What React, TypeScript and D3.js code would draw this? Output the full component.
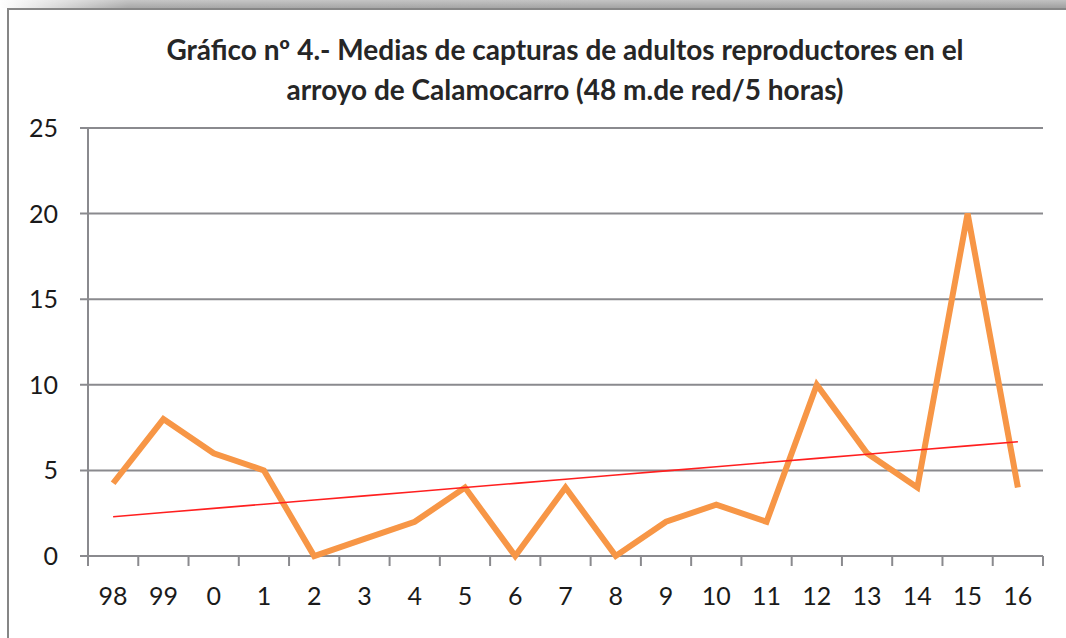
import React from "react";
import { scaleBand, scaleLinear, line, mean, sum } from "d3";

const years = ["98", "99", "0", "1", "2", "3", "4", "5", "6", "7", "8", "9", "10", "11", "12", "13", "14", "15", "16"];
const captures = [4.25, 8, 6, 5, 0, 1, 2, 4, 0, 4, 0, 2, 3, 2, 10, 6, 4, 20, 4];
const yTicks = [0, 5, 10, 15, 20, 25];
const titleLines = [
  "Gráfico nº 4.- Medias de capturas de adultos reproductores en el",
  "arroyo de Calamocarro (48 m.de red/5 horas)"
];

const W = 1066;
const H = 638;
const LEFT = 88;
const RIGHT = 1043;
const TOP = 128;
const BOTTOM = 556;

const FONT = "Lato, 'Open Sans', sans-serif";
const GRID = "#8a8a8e";

// least squares trend, like Excel's linear trendline
const xs = captures.map((_, i) => i);
const mx = mean(xs)!;
const my = mean(captures)!;
const slope =
  sum(xs, (x, i) => (x - mx) * (captures[i] - my)) / sum(xs, x => (x - mx) * (x - mx));
const intercept = my - slope * mx;
const trend = xs.map(x => intercept + slope * x);

export default function App() {
  const xScale = scaleBand<string>().domain(years).range([LEFT, RIGHT]);
  const yScale = scaleLinear().domain([0, 25]).range([BOTTOM, TOP]);
  const cx = (d: string) => xScale(d)! + xScale.bandwidth() / 2;

  const lineFn = line<number>()
    .x((_, i) => cx(years[i]))
    .y(d => yScale(d));

  const bounds = [...years.map(y => xScale(y)!), RIGHT];

  return (
    <svg
      width={W}
      height={H}
      style={{ position: "absolute", left: 0, top: 0, background: "#fff" }}
      fontFamily={FONT}
    >
      <defs>
        <linearGradient id="topband" x1="0" x2="1" y1="0" y2="0">
          <stop offset="0" stopColor="#ffffff" />
          <stop offset="0.12" stopColor="#a8a8a8" />
          <stop offset="1" stopColor="#a0a0a0" />
        </linearGradient>
        <linearGradient id="topshade" x1="0" x2="0" y1="0" y2="1">
          <stop offset="0" stopColor="#fff" stopOpacity={0.35} />
          <stop offset="1" stopColor="#fff" stopOpacity={0} />
        </linearGradient>
      </defs>
      <rect x={0} y={0} width={W} height={8} fill="url(#topband)" />
      <rect x={0} y={0} width={W} height={8} fill="url(#topshade)" />
      <line x1={7} x2={W} y1={9} y2={9} stroke="#868686" strokeWidth={2} />
      <line x1={8} x2={8} y1={9} y2={H} stroke="#868686" strokeWidth={2} />

      <g fontWeight="bold" fontSize={28} fill="#262626" textAnchor="middle">
        {titleLines.map((t, i) => (
          <text key={i} x={565} y={60 + i * 40}>
            {t}
          </text>
        ))}
      </g>

      <g>
        {yTicks.map(v => (
          <g key={v}>
            <line x1={LEFT - 8} x2={RIGHT} y1={yScale(v)} y2={yScale(v)} stroke={GRID} strokeWidth={2} />
            <text
              x={58}
              y={yScale(v)}
              dy="0.36em"
              textAnchor="end"
              fontSize={25}
              fill="#1a1a1a"
            >
              {v}
            </text>
          </g>
        ))}
        <line x1={LEFT} x2={LEFT} y1={TOP} y2={BOTTOM + 10} stroke={GRID} strokeWidth={2} />
        {bounds.map((b, i) => (
          <line key={i} x1={b} x2={b} y1={BOTTOM} y2={BOTTOM + 10} stroke={GRID} strokeWidth={2} />
        ))}
        {years.map(y => (
          <text key={y} x={cx(y)} y={605} textAnchor="middle" fontSize={25} fill="#1a1a1a">
            {y}
          </text>
        ))}
      </g>

      <path
        d={lineFn(captures)!}
        fill="none"
        stroke="#f79646"
        strokeWidth={6}
        strokeLinejoin="miter"
      />
      <path d={lineFn(trend)!} fill="none" stroke="#ff1f1f" strokeWidth={1.6} />
    </svg>
  );
}
